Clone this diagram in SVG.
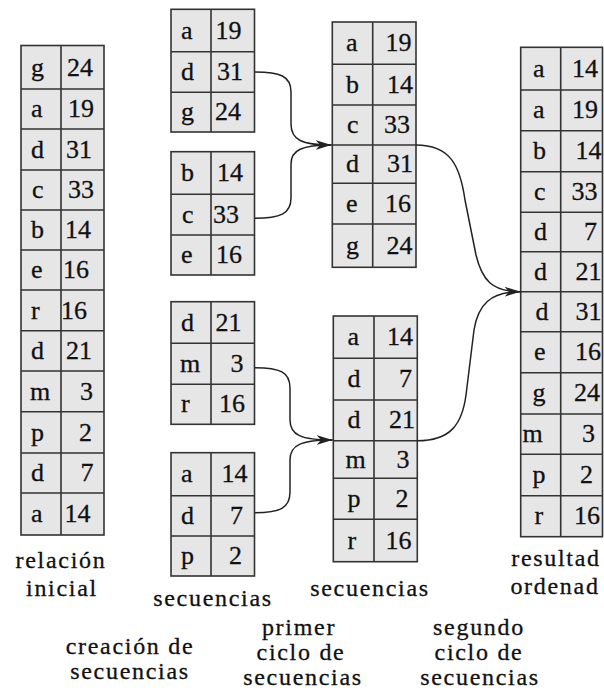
<svg xmlns="http://www.w3.org/2000/svg" width="604" height="694" viewBox="0 0 604 694" font-family="'Liberation Serif', 'DejaVu Serif', serif">
<style>
.cell{fill:#e6e6e6;stroke:#333;stroke-width:1.6}
.grid{fill:none;stroke:#333;stroke-width:1.6}
.t{font-family:'Liberation Serif', serif;font-size:26px;fill:#111;stroke:#111;stroke-width:0.3}
.lbl{font-family:'Liberation Serif', serif;font-size:24px;fill:#111;stroke:#111;stroke-width:0.3;text-anchor:middle;letter-spacing:1.7px}
.conn{fill:none;stroke:#222;stroke-width:1.5}
</style>
<defs>
<marker id="ah" markerUnits="userSpaceOnUse" viewBox="0 0 16 10" refX="16" refY="5" markerWidth="16" markerHeight="10" orient="auto">
<path d="M0,0 L16,5 L0,10 L4.5,5 Z" fill="#222"/>
</marker>
</defs>

<g id="relacion-inicial" class="t">
<rect class="cell" x="21" y="45.5" width="83" height="489.5"/>
<path class="grid" d="M21,89H104M21,129H104M21,170H104M21,210H104M21,250H104M21,290H104M21,330.7H104M21,371H104M21,411.7H104M21,453H104M21,493H104M61,45.5V535"/>
<text x="31" y="76">g</text><text x="67" y="76">24</text>
<text x="31" y="117">a</text><text x="68" y="117">19</text>
<text x="31" y="157.5">d</text><text x="66" y="157.5">31</text>
<text x="32" y="198">c</text><text x="68" y="198">33</text>
<text x="31" y="238">b</text><text x="65" y="238">14</text>
<text x="31" y="278">e</text><text x="63" y="278">16</text>
<text x="31" y="318.5">r</text><text x="61" y="318.5">16</text>
<text x="31" y="359">d</text><text x="66" y="359">21</text>
<text x="30" y="399.5">m</text><text x="80" y="399.5">3</text>
<text x="31" y="440.5">p</text><text x="79" y="440.5">2</text>
<text x="31" y="481">d</text><text x="80.5" y="481">7</text>
<text x="31" y="522">a</text><text x="64.5" y="522">14</text>
</g>

<g id="seq-1" class="t">
<rect class="cell" x="171" y="9.3" width="83.5" height="122.7"/>
<path class="grid" d="M171,51.7H254.5M171,92.3H254.5M211,9.3V132"/>
<text x="181" y="38.5">a</text><text x="215.5" y="38.5">19</text>
<text x="181" y="80">d</text><text x="217" y="80">31</text>
<text x="181" y="120">g</text><text x="215" y="120">24</text>
</g>

<g id="seq-2" class="t">
<rect class="cell" x="171" y="151.7" width="83.5" height="123.3"/>
<path class="grid" d="M171,194.3H254.5M171,235H254.5M211,151.7V275"/>
<text x="181" y="181">b</text><text x="217" y="181">14</text>
<text x="182" y="222.7">c</text><text x="213" y="222.7">33</text>
<text x="181" y="263">e</text><text x="216" y="263">16</text>
</g>

<g id="seq-3" class="t">
<rect class="cell" x="171" y="301.7" width="83.5" height="122.6"/>
<path class="grid" d="M171,343.3H254.5M171,384.3H254.5M211,301.7V424.3"/>
<text x="181" y="330.5">d</text><text x="215.5" y="330.5">21</text>
<text x="180" y="371.8">m</text><text x="230.5" y="371.8">3</text>
<text x="181" y="412.3">r</text><text x="219" y="412.3">16</text>
</g>

<g id="seq-4" class="t">
<rect class="cell" x="171" y="452.7" width="83.5" height="123.3"/>
<path class="grid" d="M171,495.7H254.5M171,536H254.5M211,452.7V576"/>
<text x="181" y="482.2">a</text><text x="221.5" y="482.2">14</text>
<text x="181" y="523.8">d</text><text x="230" y="523.8">7</text>
<text x="181" y="564">p</text><text x="229" y="564">2</text>
</g>

<g id="merge-1" class="t">
<rect class="cell" x="332.3" y="22" width="83.7" height="245.3"/>
<path class="grid" d="M332.3,64.3H416M332.3,105H416M332.3,145H416M332.3,183.3H416M332.3,224H416M372.7,22V267.3"/>
<text x="346" y="51">a</text><text x="385.5" y="51">19</text>
<text x="346" y="92.7">b</text><text x="387" y="92.7">14</text>
<text x="347" y="133">c</text><text x="384" y="133">33</text>
<text x="346" y="172">d</text><text x="387" y="172">31</text>
<text x="346" y="211.7">e</text><text x="385" y="211.7">16</text>
<text x="346" y="253.7">g</text><text x="386.5" y="253.7">24</text>
</g>

<g id="merge-2" class="t">
<rect class="cell" x="333.3" y="316" width="84" height="245.7"/>
<path class="grid" d="M333.3,358.3H417.3M333.3,400H417.3M333.3,440.7H417.3M333.3,478.3H417.3M333.3,519.3H417.3M374,316V561.7"/>
<text x="347.5" y="345">a</text><text x="387" y="345">14</text>
<text x="347.5" y="387">d</text><text x="399" y="387">7</text>
<text x="347.5" y="428.3">d</text><text x="389" y="428.3">21</text>
<text x="345.5" y="467.5">m</text><text x="396.5" y="467.5">3</text>
<text x="347.5" y="506.8">p</text><text x="395.5" y="506.8">2</text>
<text x="347.5" y="548.5">r</text><text x="385.5" y="548.5">16</text>
</g>

<g id="resultado" class="t">
<rect class="cell" x="520.7" y="47.3" width="81.8" height="489.4"/>
<path class="grid" d="M520.7,90H602.5M520.7,130.7H602.5M520.7,171.7H602.5M520.7,212.3H602.5M520.7,251.7H602.5M520.7,291.7H602.5M520.7,331.7H602.5M520.7,372.7H602.5M520.7,414H602.5M520.7,454.3H602.5M520.7,495.7H602.5M560.7,47.3V536.7"/>
<text x="533" y="76.5">a</text><text x="572" y="76.5">14</text>
<text x="533" y="118.3">a</text><text x="572" y="118.3">19</text>
<text x="533" y="159.2">b</text><text x="575.5" y="159.2">14</text>
<text x="534" y="200">c</text><text x="571.5" y="200">33</text>
<text x="534" y="240">d</text><text x="584" y="240">7</text>
<text x="534" y="279.7">d</text><text x="575.5" y="279.7">21</text>
<text x="535.5" y="319.7">d</text><text x="575.5" y="319.7">31</text>
<text x="534" y="360.2">e</text><text x="575" y="360.2">16</text>
<text x="532.5" y="401.3">g</text><text x="574" y="401.3">24</text>
<text x="522.5" y="442">m</text><text x="582" y="442">3</text>
<text x="532.5" y="483">p</text><text x="580" y="483">2</text>
<text x="534.5" y="524">r</text><text x="574" y="524">16</text>
</g>

<g id="connectors">
<path class="conn" d="M255,72 C280,72 291,76 291,92 L291,124 C291,140 302,145 331.5,145" marker-end="url(#ah)"/>
<path class="conn" d="M255,218.3 C280,218.3 291,214 291,198 L291,164 C291,150 302,145 331.5,145"/>
<path class="conn" d="M255,367.7 C280,367.7 290,372 290,388 L290,420 C290,435 301,440 332.5,440" marker-end="url(#ah)"/>
<path class="conn" d="M255,512.7 C280,512.7 290,508 290,492 L290,460 C290,445 301,440 332.5,440"/>
<path class="conn" d="M416,145 C450,145 460,165 465,200 L476,255 C482,280 492,291.7 520.5,291.7" marker-end="url(#ah)"/>
<path class="conn" d="M417.3,440.7 C450,440.7 462,425 466,395 L474,330 C478,305 490,291.7 520.5,291.7"/>
</g>

<g id="labels">
<text class="lbl" x="61" y="568">relación</text>
<text class="lbl" x="62" y="596">inicial</text>
<text class="lbl" x="213" y="606">secuencias</text>
<text class="lbl" x="370" y="596">secuencias</text>
<text class="lbl" x="556" y="566">resultad</text>
<text class="lbl" x="555" y="594">ordenad</text>
<text class="lbl" x="130" y="654">creación de</text>
<text class="lbl" x="130" y="679">secuencias</text>
<text class="lbl" x="299" y="635">primer</text>
<text class="lbl" x="301" y="660">ciclo de</text>
<text class="lbl" x="303" y="685">secuencias</text>
<text class="lbl" x="479" y="635">segundo</text>
<text class="lbl" x="479" y="660">ciclo de</text>
<text class="lbl" x="480" y="685">secuencias</text>
</g>
</svg>
